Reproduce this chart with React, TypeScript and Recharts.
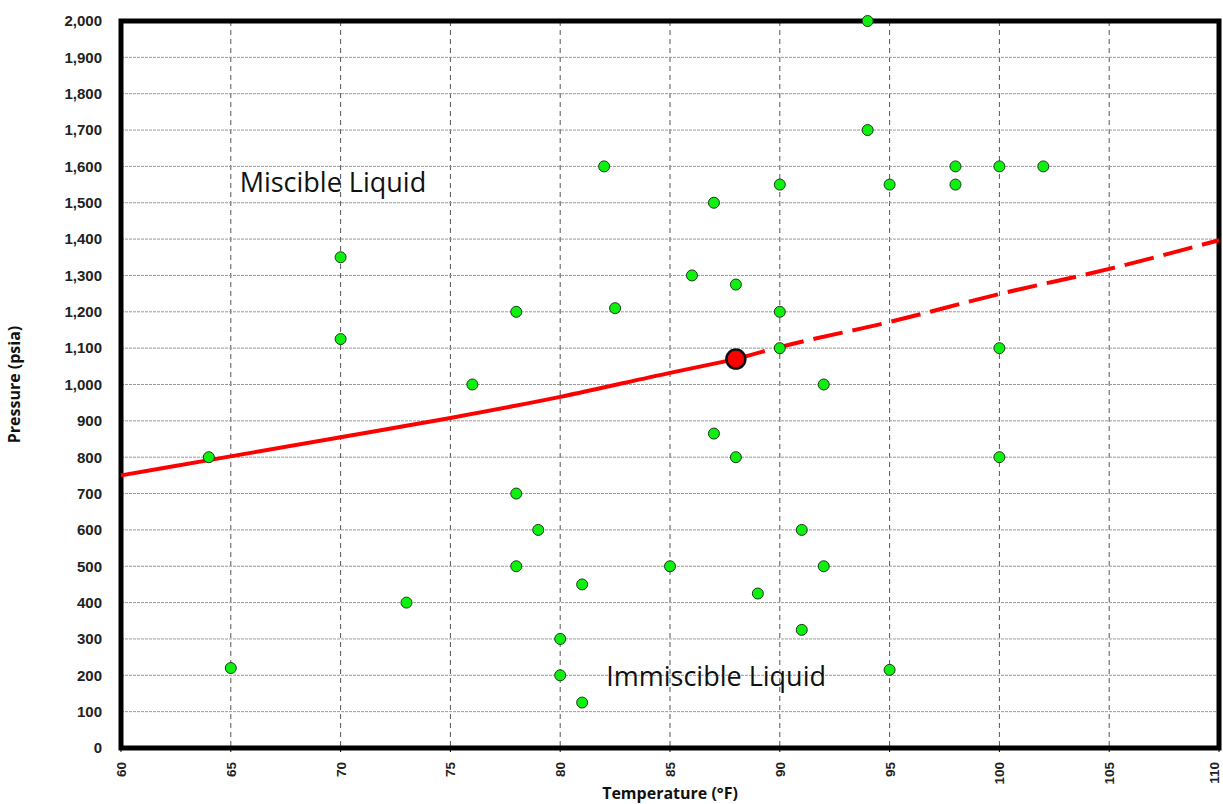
import React from "react";
import {
  ComposedChart,
  Scatter,
  Line,
  XAxis,
  YAxis,
  CartesianGrid,
  ReferenceArea,
  ReferenceDot,
  Label,
} from "recharts";

// measured data points (Temperature °F, Pressure psia)
const tempF = [64, 65, 70, 70, 73, 76, 78, 78, 78, 79, 80, 80, 81, 81, 82, 82.5, 85, 86, 87, 87, 88, 88, 89, 90, 90, 90, 91, 91, 92, 92, 94, 94, 95, 95, 98, 98, 100, 100, 100, 102];
const pressure = [800, 220, 1350, 1125, 400, 1000, 1200, 700, 500, 600, 300, 200, 450, 125, 1600, 1210, 500, 1300, 1500, 865, 1275, 800, 425, 1550, 1200, 1100, 600, 325, 1000, 500, 2000, 1700, 1550, 215, 1600, 1550, 1600, 1100, 800, 1600];

// boundary curve: solid (fitted) and dashed (extrapolated)
const solidT = [60, 64, 70, 75, 80, 85, 88];
const solidP = [750, 792, 855, 908, 966, 1032, 1070];
const dashT = [88, 90, 95, 100, 105, 110];
const dashP = [1070, 1103, 1172, 1249, 1318, 1397];

const critical = { t: 88, p: 1070 };

const xTicks = [60, 65, 70, 75, 80, 85, 90, 95, 100, 105, 110];
const yTicks = [0, 100, 200, 300, 400, 500, 600, 700, 800, 900, 1000, 1100, 1200, 1300, 1400, 1500, 1600, 1700, 1800, 1900, 2000];

const points = tempF.map((t, i) => ({ t, p: pressure[i] }));
const solidLine = solidT.map((t, i) => ({ t, p: solidP[i] }));
const dashLine = dashT.map((t, i) => ({ t, p: dashP[i] }));

const yTickFont = { fontFamily: "Liberation Sans, Arial, sans-serif", fontWeight: 700, fontSize: 15, fill: "#222" };
const titleFont = { fontFamily: "Open Sans, sans-serif", fontWeight: 700, fontSize: 16, fill: "#111" };

const XTick = ({ x, y, payload }: any) => (
  <text
    x={0}
    y={0}
    transform={`translate(${Math.min(x + 5, 1219)},${y + 8}) rotate(-90)`}
    textAnchor="end"
    fontFamily="Liberation Sans, Arial, sans-serif"
    fontWeight={700}
    fontSize={13.5}
    fill="#222"
  >
    {payload.value}
  </text>
);

const GreenDot = ({ cx, cy }: any) => (
  <circle cx={cx} cy={cy} r={5.5} fill="#0ef00e" stroke="#1a3a1a" strokeWidth={1} />
);

const RedDot = ({ cx, cy }: any) => (
  <circle cx={cx} cy={cy} r={9.5} fill="#ff0000" stroke="#111" strokeWidth={2.5} />
);

const annoStyle = { fontFamily: "Open Sans, sans-serif", fontSize: 27, fill: "#111" };

export default function App() {
  return (
    <div style={{ position: "absolute", left: 0, top: 0, background: "#fff" }}>
      <ComposedChart
        width={1223}
        height={804}
        margin={{ top: 21, right: 4, bottom: 0, left: 0 }}
      >
        <CartesianGrid horizontal={false} stroke="#555" strokeDasharray="5 4" />
        <CartesianGrid vertical={false} stroke="#999" strokeDasharray="3 1" />
        <XAxis
          type="number"
          dataKey="t"
          domain={[60, 110]}
          ticks={xTicks}
          interval={0}
          height={56}
          tick={<XTick />}
          tickLine={{ stroke: "#000" }}
          tickSize={4}
          axisLine={false}
        >
          <Label value="Temperature (°F)" position="insideBottom" offset={5} style={titleFont} />
        </XAxis>
        <YAxis
          type="number"
          dataKey="p"
          domain={[0, 2000]}
          ticks={yTicks}
          interval={0}
          width={121}
          tickFormatter={(v: number) => v.toLocaleString("en-US")}
          tick={yTickFont}
          tickLine={false}
          tickMargin={13}
          axisLine={false}
        >
          <Label
            value="Pressure (psia)"
            angle={-90}
            position="insideLeft"
            offset={14}
            style={{ ...titleFont, textAnchor: "middle" }}
          />
        </YAxis>
        <Scatter data={points} dataKey="p" shape={<GreenDot />} isAnimationActive={false} />
        <Line
          data={solidLine}
          dataKey="p"
          type="monotone"
          stroke="#ff0000"
          strokeWidth={4}
          dot={false}
          isAnimationActive={false}
        />
        <Line
          data={dashLine}
          dataKey="p"
          type="monotone"
          stroke="#ff0000"
          strokeWidth={4}
          strokeDasharray="30 10"
          dot={false}
          isAnimationActive={false}
        />
        <ReferenceDot x={critical.t} y={critical.p} shape={<RedDot />} />
        <ReferenceDot x={69.65} y={1557} r={0} fill="none" stroke="none">
          <Label value="Miscible Liquid" position="center" style={annoStyle} />
        </ReferenceDot>
        <ReferenceDot x={87.1} y={198} r={0} fill="none" stroke="none">
          <Label value="Immiscible Liquid" position="center" style={annoStyle} />
        </ReferenceDot>
        <ReferenceArea x1={60} x2={110} y1={0} y2={2000} fill="none" stroke="#000" strokeWidth={5} ifOverflow="visible" />
      </ComposedChart>
    </div>
  );
}
